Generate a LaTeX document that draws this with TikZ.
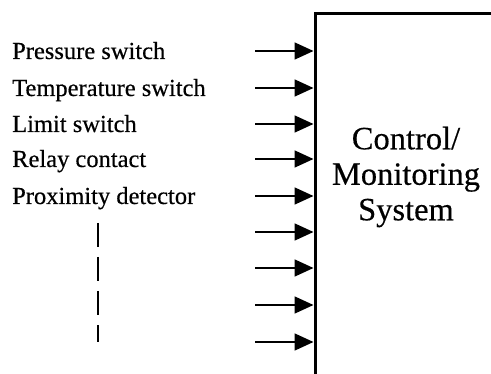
\documentclass[tikz,border=0pt]{standalone}
\usepackage{fontspec}
\setmainfont[FakeBold=0.4]{Liberation Serif}
\usetikzlibrary{arrows.meta}
\tikzset{
  inarrow/.style={line width=1.7pt, -{Triangle[length=19pt,width=17pt]}},
  lbl/.style={anchor=base west, inner sep=0pt, font=\fontsize{24.5}{28}\selectfont},
  sysbox/.style={draw, line width=3pt, minimum width=185pt, minimum height=369pt, inner sep=0pt},
}
\begin{document}
\begin{tikzpicture}[x=1pt,y=1pt]
\clip (0,0) rectangle (491,373);
\node[sysbox] (sys) at (407.5,174.5) {};
\node[align=center, inner sep=0pt, font=\fontsize{32.5}{35.5}\selectfont] (title) at (406,196) {Control/\\Monitoring\\System};
\foreach \i/\y in {1/322,2/285,3/249,4/214,5/177,6/141,7/105,8/68,9/31}{
  \coordinate (s\i) at (255,\y);
  \draw[inarrow] (s\i) -- (s\i -| sys.west);
}
\node[lbl] (l1) at (12,314) {Pressure switch};
\node[lbl] (l2) at (12,277) {Temperature switch};
\node[lbl] (l3) at (12,241) {Limit switch};
\node[lbl] (l4) at (12,206) {Relay contact};
\node[lbl] (l5) at (12,169) {Proximity detector};
\coordinate (d1) at (98,150);
\coordinate (d2) at (98,31);
\draw[line width=1.3pt, dash pattern=on 24pt off 10pt] (d1) -- (d2);
\end{tikzpicture}
\end{document}
